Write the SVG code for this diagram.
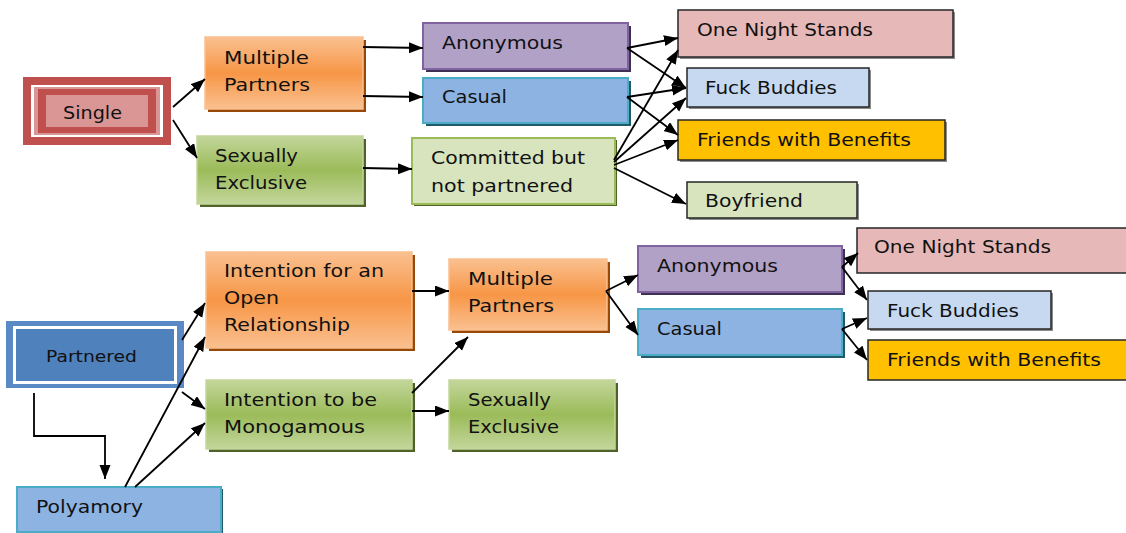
<svg xmlns="http://www.w3.org/2000/svg" width="1126" height="533" viewBox="0 0 1126 533">
<defs>
<linearGradient id="gOr" x1="0" y1="0" x2="0" y2="1"><stop offset="0" stop-color="#FAC090"/><stop offset="0.5" stop-color="#F79646"/><stop offset="1" stop-color="#FAC090"/></linearGradient>
<linearGradient id="gGr" x1="0" y1="0" x2="0" y2="1"><stop offset="0" stop-color="#C3D69B"/><stop offset="0.5" stop-color="#9BBB59"/><stop offset="1" stop-color="#C3D69B"/></linearGradient>
<marker id="ah" markerUnits="userSpaceOnUse" markerWidth="15" markerHeight="12" refX="14" refY="5.5" orient="auto"><path d="M0,0 L14,5.5 L0,11 z" fill="#000"/></marker>
</defs>
<style>
text{font-family:"DejaVu Sans","Liberation Sans",sans-serif;font-size:17.5px;fill:#111;}
.sm{font-size:15px;}
.or{fill:url(#gOr);stroke:#FAC090;stroke-width:1.5;}
.orS{fill:#984807;}
.gr{fill:url(#gGr);stroke:#C3D69B;stroke-width:1.5;}
.grS{fill:#4F6228;}
.pu{fill:#B2A1C7;stroke:#8064A2;stroke-width:2;}
.puS{fill:#3F3151;}
.bl{fill:#8DB3E2;stroke:#4BACC6;stroke-width:2;}
.blS{fill:#215968;}
.lg{fill:#D7E4BD;stroke:#9BBB59;stroke-width:2;}
.pl{stroke:#262626;stroke-width:1.5;}
.plS{fill:#8C8C8C;}
#connectors line,#connectors polyline{stroke:#000;stroke-width:1.8;fill:none;marker-end:url(#ah);}
</style>

<!-- top section -->
<g id="single">
<rect x="23" y="77" width="148" height="68" fill="#C0504D"/>
<rect x="31" y="85" width="132" height="52" fill="#fff"/>
<rect x="34" y="87" width="126" height="48" fill="#D99694"/>
<rect x="38" y="89" width="118" height="44" fill="#C0504D"/>
<rect x="46" y="95" width="102" height="32" fill="#D99694"/>
<text x="63" y="119" textLength="59" lengthAdjust="spacingAndGlyphs">Single</text>
</g>
<g id="mp1">
<rect class="orS" x="208" y="40" width="158" height="72"/>
<rect class="or" x="205" y="37" width="158" height="72"/>
<text x="224" y="64" textLength="85" lengthAdjust="spacingAndGlyphs">Multiple</text>
<text x="224" y="91" textLength="86" lengthAdjust="spacingAndGlyphs">Partners</text>
</g>
<g id="se1">
<rect class="grS" x="200" y="139" width="166" height="68"/>
<rect class="gr" x="197" y="136" width="166" height="68"/>
<text x="215" y="162" textLength="83" lengthAdjust="spacingAndGlyphs">Sexually</text>
<text x="215" y="189" textLength="92" lengthAdjust="spacingAndGlyphs">Exclusive</text>
</g>
<g id="anon1">
<rect class="puS" x="426" y="26" width="205" height="46"/>
<rect class="pu" x="423" y="23" width="205" height="46"/>
<text x="442" y="49" textLength="121" lengthAdjust="spacingAndGlyphs">Anonymous</text>
</g>
<g id="cas1">
<rect class="blS" x="426" y="81" width="205" height="45"/>
<rect class="bl" x="423" y="78" width="205" height="45"/>
<text x="442" y="103" textLength="65" lengthAdjust="spacingAndGlyphs">Casual</text>
</g>
<g id="committed">
<rect class="grS" x="414" y="140" width="203" height="66"/>
<rect class="lg" x="412" y="138" width="203" height="66"/>
<text x="431" y="164" textLength="154" lengthAdjust="spacingAndGlyphs">Committed but</text>
<text x="431" y="192" textLength="142" lengthAdjust="spacingAndGlyphs">not partnered</text>
</g>
<g id="ons1">
<rect class="plS" x="680" y="12" width="275" height="47"/>
<rect class="pl" x="678" y="10" width="275" height="47" fill="#E6B9B8"/>
<text x="697" y="36" textLength="176" lengthAdjust="spacingAndGlyphs">One Night Stands</text>
</g>
<g id="fb1">
<rect class="plS" x="689" y="70" width="182" height="39"/>
<rect class="pl" x="687" y="68" width="182" height="39" fill="#C6D9F1"/>
<text x="705" y="94" textLength="132" lengthAdjust="spacingAndGlyphs">Fuck Buddies</text>
</g>
<g id="fwb1">
<rect class="plS" x="680" y="122" width="267" height="40"/>
<rect class="pl" x="678" y="120" width="267" height="40" fill="#FFC000"/>
<text x="697" y="146" textLength="214" lengthAdjust="spacingAndGlyphs">Friends with Benefits</text>
</g>
<g id="boyfriend">
<rect class="plS" x="689" y="184" width="170" height="36"/>
<rect class="pl" x="687" y="182" width="170" height="36" fill="#D7E4BD"/>
<text x="705" y="207" textLength="98" lengthAdjust="spacingAndGlyphs">Boyfriend</text>
</g>

<!-- bottom section -->
<g id="partnered">
<rect x="6" y="321" width="178" height="67" fill="#5A8AC6"/>
<rect x="14.5" y="327.5" width="161" height="55" fill="#4F81BD" stroke="#fff" stroke-width="3"/>
<text class="sm" x="46" y="362" textLength="91" lengthAdjust="spacingAndGlyphs">Partnered</text>
</g>
<g id="openrel">
<rect class="orS" x="209" y="255" width="206" height="96"/>
<rect class="or" x="206" y="252" width="206" height="96"/>
<text x="224" y="277" textLength="160" lengthAdjust="spacingAndGlyphs">Intention for an</text>
<text x="224" y="304" textLength="55" lengthAdjust="spacingAndGlyphs">Open</text>
<text x="224" y="331" textLength="126" lengthAdjust="spacingAndGlyphs">Relationship</text>
</g>
<g id="mono">
<rect class="grS" x="209" y="383" width="206" height="69"/>
<rect class="gr" x="206" y="380" width="206" height="69"/>
<text x="224" y="406" textLength="153" lengthAdjust="spacingAndGlyphs">Intention to be</text>
<text x="224" y="433" textLength="141" lengthAdjust="spacingAndGlyphs">Monogamous</text>
</g>
<g id="polyamory">
<rect class="blS" x="19" y="489" width="204" height="45"/>
<rect class="bl" x="17" y="487" width="204" height="45"/>
<text x="36" y="513" textLength="107" lengthAdjust="spacingAndGlyphs">Polyamory</text>
</g>
<g id="mp2">
<rect class="orS" x="452" y="262" width="158" height="71"/>
<rect class="or" x="449" y="259" width="158" height="71"/>
<text x="468" y="285" textLength="85" lengthAdjust="spacingAndGlyphs">Multiple</text>
<text x="468" y="312" textLength="86" lengthAdjust="spacingAndGlyphs">Partners</text>
</g>
<g id="se2">
<rect class="grS" x="452" y="383" width="166" height="69"/>
<rect class="gr" x="449" y="380" width="166" height="69"/>
<text x="468" y="406" textLength="83" lengthAdjust="spacingAndGlyphs">Sexually</text>
<text x="468" y="433" textLength="91" lengthAdjust="spacingAndGlyphs">Exclusive</text>
</g>
<g id="anon2">
<rect class="puS" x="641" y="249" width="204" height="46"/>
<rect class="pu" x="638" y="246" width="204" height="46"/>
<text x="657" y="272" textLength="121" lengthAdjust="spacingAndGlyphs">Anonymous</text>
</g>
<g id="cas2">
<rect class="blS" x="641" y="312" width="204" height="46"/>
<rect class="bl" x="638" y="309" width="204" height="46"/>
<text x="657" y="335" textLength="65" lengthAdjust="spacingAndGlyphs">Casual</text>
</g>
<g id="ons2">
<rect class="pl" x="857" y="228" width="280" height="45" fill="#E6B9B8"/>
<text x="874" y="253" textLength="177" lengthAdjust="spacingAndGlyphs">One Night Stands</text>
</g>
<g id="fb2">
<rect class="plS" x="870" y="293" width="183" height="38"/>
<rect class="pl" x="868" y="291" width="183" height="38" fill="#C6D9F1"/>
<text x="887" y="317" textLength="132" lengthAdjust="spacingAndGlyphs">Fuck Buddies</text>
</g>
<g id="fwb2">
<rect class="pl" x="868" y="340" width="270" height="40" fill="#FFC000"/>
<text x="887" y="366" textLength="214" lengthAdjust="spacingAndGlyphs">Friends with Benefits</text>
</g>

<g id="connectors">
<line x1="173" y1="107" x2="205" y2="79"/>
<line x1="173" y1="120" x2="197" y2="158"/>
<line x1="363" y1="47" x2="423" y2="48"/>
<line x1="363" y1="96" x2="423" y2="97"/>
<line x1="363" y1="168" x2="412" y2="169"/>
<line x1="627" y1="48" x2="678" y2="38"/>
<line x1="627" y1="48" x2="686" y2="88"/>
<line x1="627" y1="97" x2="686" y2="88"/>
<line x1="627" y1="97" x2="678" y2="135"/>
<line x1="614" y1="160" x2="678" y2="50"/>
<line x1="614" y1="162" x2="686" y2="98"/>
<line x1="614" y1="165" x2="678" y2="140"/>
<line x1="614" y1="168" x2="686" y2="204"/>
<line x1="182" y1="340" x2="205" y2="303"/>
<line x1="182" y1="392" x2="205" y2="409"/>
<polyline points="34,393 34,436 105,436 105,479"/>
<line x1="125" y1="487" x2="205" y2="337"/>
<line x1="135" y1="487" x2="205" y2="423"/>
<line x1="412" y1="291" x2="449" y2="291"/>
<line x1="412" y1="393" x2="468" y2="337"/>
<line x1="412" y1="411" x2="449" y2="411"/>
<line x1="606" y1="291" x2="638" y2="275"/>
<line x1="606" y1="291" x2="638" y2="335"/>
<line x1="842" y1="267" x2="858" y2="253"/>
<line x1="842" y1="267" x2="867" y2="300"/>
<line x1="842" y1="329" x2="867" y2="318"/>
<line x1="842" y1="329" x2="867" y2="360"/>
</g>
</svg>
